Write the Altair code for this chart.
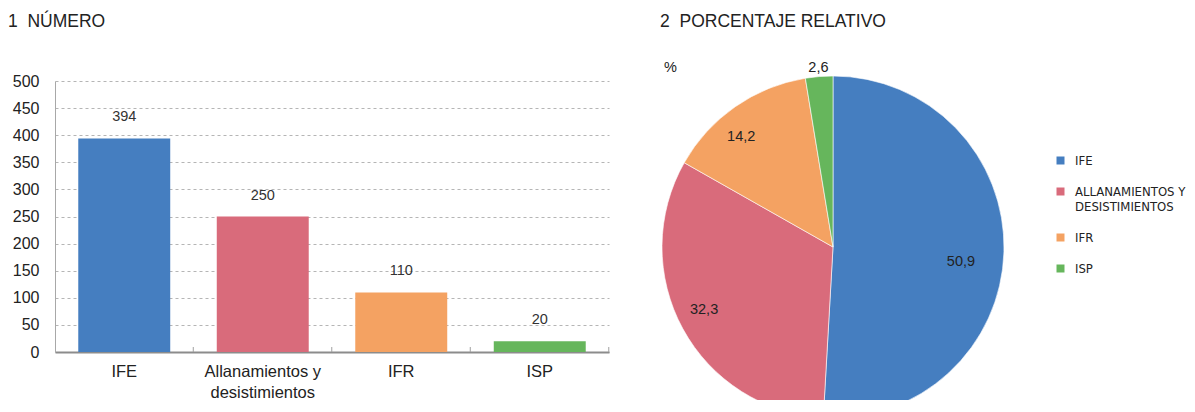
import altair as alt
import pandas as pd

categorias = ["IFE", "Allanamientos y desistimientos", "IFR", "ISP"]
valores = [394, 250, 110, 20]
colores = ["#457EC0", "#D96B7B", "#F4A262", "#66B65C"]
ticks_y = [0, 50, 100, 150, 200, 250, 300, 350, 400, 450, 500]

FONT = "Liberation Sans"
NARROW = "DejaVu Sans Condensed, Roboto Condensed, Noto Sans Condensed, Roboto"

df = pd.DataFrame({"cat": categorias, "val": valores, "orden": list(range(len(categorias)))})

color_scale = alt.Scale(domain=categorias, range=colores)

split_expr = ("indexof(datum.label,' y ')>0 ? [slice(datum.label,0,indexof(datum.label,' y ')+2),"
              " slice(datum.label,indexof(datum.label,' y ')+3)] : datum.label")
split_upper = ("indexof(datum.label,' y ')>0 ? [upper(slice(datum.label,0,indexof(datum.label,' y ')+2)),"
               " upper(slice(datum.label,indexof(datum.label,' y ')+3))] : upper(datum.label)")

# ---------- Bar chart ----------
x_scale = alt.Scale(paddingInner=0.336, paddingOuter=0.168)
x_axis = alt.Axis(labelAngle=0, labelFontSize=16.5, labelColor="#222", labelFont=FONT,
                  labelPadding=11, labelLineHeight=21, labelExpr=split_expr,
                  domainColor="#8c8c8c", domainWidth=2, ticks=False, grid=False)
xenc = alt.X("cat:N", sort=categorias, title=None, scale=x_scale, axis=x_axis)
yenc = alt.Y("val:Q", title=None, scale=alt.Scale(domain=[0, 500]),
             axis=alt.Axis(values=ticks_y, labelFontSize=16, labelColor="#222", labelFont=FONT,
                           labelPadding=16, labelOverlap=False, ticks=False,
                           domainColor="#a8a8a8", domainWidth=1,
                           grid=True, gridColor="#b5b5b5", gridDash=[3, 3], gridWidth=1,
                           minExtent=47, maxExtent=47))

bars = alt.Chart(df).mark_bar().encode(
    x=xenc, y=yenc,
    color=alt.Color("cat:N", scale=color_scale, legend=None),
)
bar_labels = alt.Chart(df).mark_text(dy=-21, fontSize=14.5, color="#333", font=FONT).encode(
    x=xenc, y=yenc, text="val:Q")

# small separators between categories on the x axis (pointing up)
sep_ticks = alt.Chart(df).mark_rule(color="#a0a0a0", strokeWidth=1).encode(
    x=alt.X("cat:N", sort=categorias, title=None, scale=x_scale, axis=x_axis, bandPosition=0),
    xOffset=alt.value(115),
    y=alt.value(266), y2=alt.value(271))

left = alt.layer(bars, bar_labels, sep_ticks).properties(
    width=554, height=271,
    title=alt.TitleParams("1\u00a0\u00a0NÚMERO", anchor="start", frame="group", dx=-47, offset=43,
                          fontSize=17.5, fontWeight="normal", color="#222", font=FONT),
)

# ---------- Pie chart ----------
CX, CY = 173, 214
pie_base = alt.Chart(df).transform_joinaggregate(total="sum(val)").transform_calculate(
    pct="replace(format(100*datum.val/datum.total, '.1f'), '.', ',')")

arcs = pie_base.mark_arc(radius=171, stroke="white", strokeWidth=0.6, clip=True).encode(
    theta=alt.Theta("val:Q", stack=True), order=alt.Order("orden:Q"),
    x=alt.value(CX), y=alt.value(CY),
    color=alt.Color("cat:N", scale=color_scale, sort=categorias,
                    legend=alt.Legend(title=None, orient="none", legendX=394, legendY=121,
                                      symbolType="square", symbolSize=64, symbolStrokeWidth=0,
                                      labelFont=NARROW, labelFontSize=13, labelColor="#222",
                                      labelOffset=8, rowPadding=17, padding=0,
                                      labelExpr=split_upper)),
)

# label placement per slice: (radius, dx, dy)
label_style = {
    "IFE": (128, 0, 11),
    "Allanamientos y desistimientos": (140, -6, -4),
    "IFR": (143, -10, 7),
    "ISP": (180, 0, 0),
}

label_base = pie_base.transform_window(
    cum="sum(val)", sort=[alt.SortField("orden")]
).transform_calculate(mid="datum.cum - datum.val/2")

label_layers = []
for cat, (r, ddx, ddy) in label_style.items():
    label_layers.append(
        label_base.transform_filter(alt.datum.cat == cat).mark_text(
            radius=r, dx=ddx, dy=ddy, fontSize=14.5, color="#222", font=FONT
        ).encode(theta=alt.Theta("mid:Q", stack=False), x=alt.value(CX), y=alt.value(CY),
                 text="pct:N")
    )

pct_sign = alt.Chart(pd.DataFrame({"t": ["%"]})).mark_text(
    fontSize=14.5, color="#222", font=FONT, align="left").encode(
    x=alt.value(4), y=alt.value(35), text="t:N")

right = alt.layer(arcs, *label_layers, pct_sign).properties(
    width=346, height=367,
    title=alt.TitleParams("2\u00a0\u00a0PORCENTAJE RELATIVO", anchor="start", frame="group", offset=3,
                          fontSize=17.5, fontWeight="normal", color="#222", font=FONT),
)

chart = alt.hconcat(left, right, spacing=51, bounds="flush", center=True).resolve_scale(
    color="independent", theta="independent"
).properties(
    padding={"left": 0, "top": 4, "right": 0, "bottom": 0}
).configure_view(stroke=None)

chart.save("out.html", embed_options={"renderer": "svg", "actions": False})
